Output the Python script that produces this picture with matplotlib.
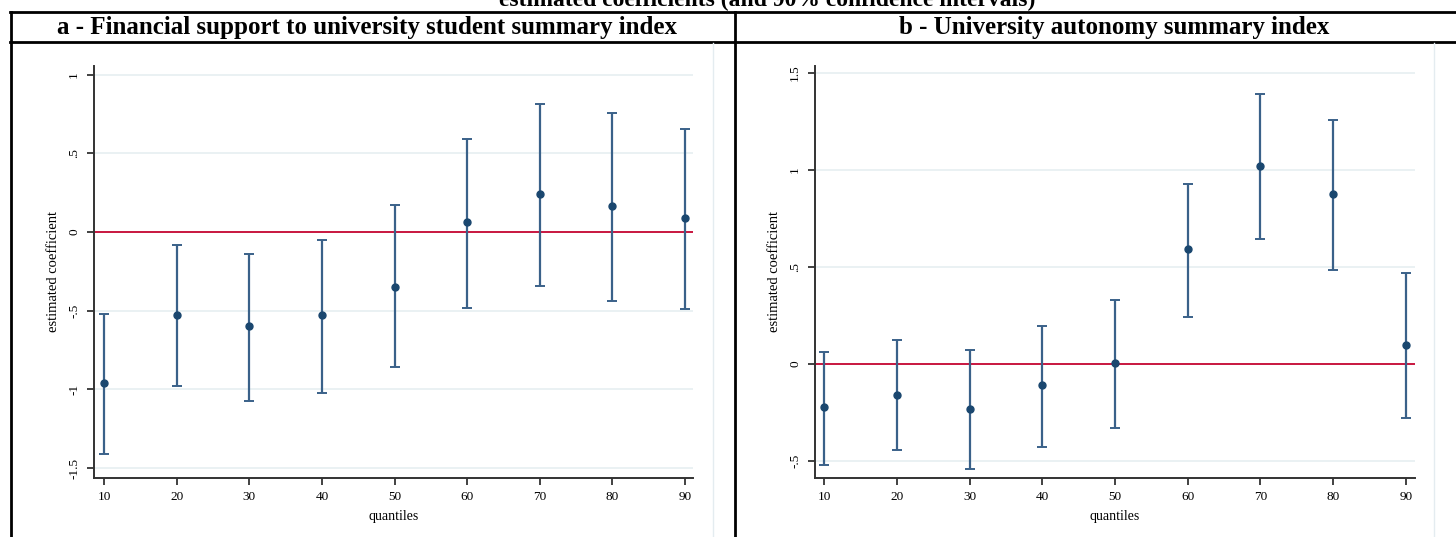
import numpy as np
import matplotlib.pyplot as plt
from matplotlib.lines import Line2D

W, H = 1456, 537   # figure size, px

quantiles = [10, 20, 30, 40, 50, 60, 70, 80, 90]

# panel a - financial support
coef_a = [-0.96, -0.53, -0.60, -0.53, -0.35, 0.065, 0.24, 0.165, 0.09]
lo_a = [-1.41, -0.98, -1.07, -1.02, -0.86, -0.48, -0.34, -0.44, -0.49]
hi_a = [-0.52, -0.08, -0.14, -0.05, 0.17, 0.59, 0.81, 0.755, 0.655]

# panel b - university autonomy
coef_b = [-0.22, -0.16, -0.23, -0.11, 0.005, 0.59, 1.02, 0.875, 0.10]
lo_b = [-0.52, -0.445, -0.54, -0.43, -0.33, 0.24, 0.645, 0.485, -0.28]
hi_b = [0.06, 0.125, 0.072, 0.196, 0.33, 0.93, 1.39, 1.26, 0.47]

yticks_a = [1, 0.5, 0, -0.5, -1, -1.5]
ylabels_a = ["1", ".5", "0", "-.5", "-1", "-1.5"]
yticks_b = [1.5, 1, 0.5, 0, -0.5]
ylabels_b = ["1.5", "1", ".5", "0", "-.5"]

title = "estimated coefficients (and 90% confidence intervals)"
head_a = "a - Financial support to university student summary index"
head_b = "b - University autonomy summary index"

navy = "#1a476f"
cap_col = "#3a6189"
red = "#c8163f"
grid_col = "#e6eff1"
serif = ["Liberation Serif", "DejaVu Serif"]


def fx(px):
    return px / W


def fy(py):
    return 1 - py / H


fig = plt.figure(figsize=(W / 100, H / 100), dpi=100)


def panel(x0, x1, xlim, ylim, coef, lo, hi, yticks, ylabels):
    ax = fig.add_axes([fx(x0), fy(478), fx(x1 - x0), (478 - 66) / H])
    ax.set_xlim(xlim)
    ax.set_ylim(ylim)
    for t in yticks:
        if t != 0:
            ax.axhline(t, color=grid_col, lw=1.2, zorder=0)
    ax.axhline(0, color=red, lw=1.4, zorder=1)
    coef = np.array(coef)
    err = [coef - np.array(lo), np.array(hi) - coef]
    ax.errorbar(quantiles, coef, yerr=err, fmt="none", ecolor=cap_col,
                elinewidth=1.6, capsize=3.5, capthick=1.4, zorder=2)
    ax.plot(quantiles, coef, "o", color=navy, ms=5, zorder=3)
    for s in ["top", "right"]:
        ax.spines[s].set_visible(False)
    for s in ["left", "bottom"]:
        ax.spines[s].set_color("#333333")
        ax.spines[s].set_linewidth(1.4)
    ax.set_xticks(quantiles)
    ax.set_xticklabels([str(q) for q in quantiles], family=serif, fontsize=9.5)
    ax.set_yticks(yticks)
    ax.set_yticklabels(ylabels, family=serif, fontsize=9.5, rotation=90,
                       va="center")
    ax.tick_params(length=5, width=1.3, color="#333333")
    ax.tick_params(axis="y", pad=5)
    ax.tick_params(axis="x", pad=4)
    w = x1 - x0
    ax.set_xlabel("quantiles", family=serif, fontsize=10)
    ax.xaxis.set_label_coords(0.5, -(510 - 478) / 412)
    ax.set_ylabel("estimated coefficient", family=serif, fontsize=10.5)
    ax.yaxis.label.set_va("center")
    ax.yaxis.set_label_coords(-41 / w, 0.5)
    return ax


panel(94, 693, (8.62, 91.10), (-1.562, 1.054), coef_a, lo_a, hi_a,
      yticks_a, ylabels_a)
panel(815, 1415, (8.76, 91.24), (-0.588, 1.536), coef_b, lo_b, hi_b,
      yticks_b, ylabels_b)

# table frame
def hline(y, xa, xb, c="black", lw=2):
    fig.add_artist(Line2D([fx(xa), fx(xb)], [fy(y), fy(y)], color=c, lw=lw))


def vline(x, ya, yb, c="black", lw=2):
    fig.add_artist(Line2D([fx(x), fx(x)], [fy(ya), fy(yb)], color=c, lw=lw))


hline(12, 10, W)
hline(42, 10, W)
vline(11, 12, H)
vline(735, 12, H)
vline(713, 43, H, c="#e4ecf0", lw=1)
vline(1434, 43, H, c="#e4ecf0", lw=1)

fig.text(fx(767), fy(6), title, ha="center", va="baseline", family=serif,
         fontsize=17, fontweight="bold")
fig.text(fx(367), fy(34), head_a, ha="center", va="baseline", family=serif,
         fontsize=18, fontweight="bold")
fig.text(fx(1114), fy(34), head_b, ha="center", va="baseline", family=serif,
         fontsize=18, fontweight="bold")

fig.savefig("out.png", dpi=100)
